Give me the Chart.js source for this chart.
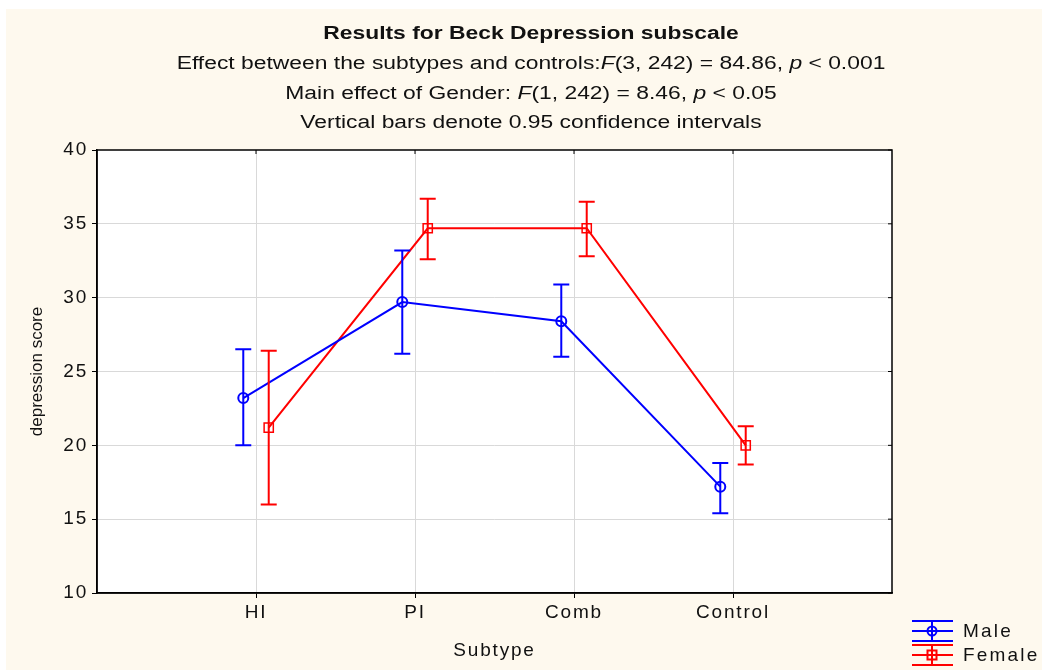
<!DOCTYPE html>
<html>
<head>
<meta charset="utf-8">
<script src="https://cdn.jsdelivr.net/npm/chart.js@4.4.1/dist/chart.umd.min.js"></script>
<style>
  body { margin: 0; background: #fff; }
  #wrap { position: relative; width: 1042px; height: 670px; overflow: hidden; font-family: "Liberation Sans", Arial, sans-serif; color: #111; }
  #bg { position: absolute; left: 6px; top: 9px; right: 0; bottom: 0; background: #fef9ee; }
  #myChart { position: absolute; left: 0; top: 0; }
  .hd { position: absolute; left: 0; width: 1062px; text-align: center; font-size: 18px; line-height: 22px;
        white-space: nowrap; transform: scaleX(1.27); transform-origin: 531px 50%; }
</style>
</head>
<body>
<div id="wrap">
  <div id="bg"></div>
  <canvas id="myChart" width="1042" height="670"></canvas>
  <div class="hd" style="top:22px;font-weight:bold">Results for Beck Depression subscale</div>
  <div class="hd" style="top:52px">Effect between the subtypes and controls:<i>F</i>(3, 242) = 84.86, <i>p</i> &lt; 0.001</div>
  <div class="hd" style="top:82px">Main effect of Gender: <i>F</i>(1, 242) = 8.46, <i>p</i> &lt; 0.05</div>
  <div class="hd" style="top:111px">Vertical bars denote 0.95 confidence intervals</div>
</div>
<script>
// subtypes on the x axis
const categories = ['HI', 'PI', 'Comb', 'Control'];

// means and 0.95 confidence limits
const maleMean = [23.2, 29.7, 28.4, 17.2];
const maleLow = [20.0, 26.2, 26.0, 15.4];
const maleHigh = [26.5, 33.2, 30.9, 18.8];

const femaleMean = [21.2, 34.7, 34.7, 20.0];
const femaleLow = [16.0, 32.6, 32.8, 18.7];
const femaleHigh = [26.4, 36.7, 36.5, 21.3];

const FONT = '"Liberation Sans", Arial, sans-serif';
const DODGE = 0.08; // male left of the category, female right
const BLUE = '#0000ff';
const RED = '#ff0000';
const SPACING = '1.8px'; // the original text is drawn wide

const toPoints = (vals, shift) => vals.map((y, i) => ({ x: i + 1 + shift, y }));

// vertical confidence bars with caps
const errorBars = {
  id: 'errorBars',
  afterDatasetsDraw(chart) {
    const { ctx, scales: { x, y } } = chart;
    chart.data.datasets.forEach((ds) => {
      ctx.save();
      ctx.strokeStyle = ds.borderColor;
      ctx.lineWidth = 2;
      ds.data.forEach((pt, i) => {
        const px = x.getPixelForValue(pt.x);
        const top = y.getPixelForValue(ds.high[i]);
        const bot = y.getPixelForValue(ds.low[i]);
        ctx.beginPath();
        ctx.moveTo(px, top); ctx.lineTo(px, bot);
        ctx.moveTo(px - 8, top); ctx.lineTo(px + 8, top);
        ctx.moveTo(px - 8, bot); ctx.lineTo(px + 8, bot);
        ctx.stroke();
      });
      ctx.restore();
    });
  }
};

// white plot area, black frame, y title and the legend in the corner
const frame = {
  id: 'frame',
  beforeUpdate(chart) { chart.ctx.letterSpacing = SPACING; },
  beforeDraw(chart) {
    const { ctx, chartArea: a } = chart;
    ctx.letterSpacing = SPACING;
    ctx.save();
    ctx.fillStyle = '#fff';
    ctx.fillRect(a.left, a.top, a.width, a.height);
    ctx.restore();
  },
  afterDraw(chart) {
    const { ctx, chartArea: a, scales: { x, y } } = chart;
    ctx.save();
    ctx.strokeStyle = '#000';
    ctx.lineWidth = 1.5;
    ctx.strokeRect(a.left, a.top, a.width, a.height);

    // small inward ticks on top and right
    ctx.lineWidth = 1;
    ctx.beginPath();
    x.ticks.forEach(t => {
      if (t.value > 0 && t.value < 5) {
        const px = x.getPixelForValue(t.value);
        ctx.moveTo(px, a.top); ctx.lineTo(px, a.top + 4);
      }
    });
    y.ticks.forEach(t => {
      const py = y.getPixelForValue(t.value);
      ctx.moveTo(a.right, py); ctx.lineTo(a.right - 4, py);
    });
    ctx.stroke();

    // y axis title
    ctx.letterSpacing = '0px';
    ctx.fillStyle = '#111';
    ctx.font = '17px ' + FONT;
    ctx.textAlign = 'center';
    ctx.textBaseline = 'middle';
    ctx.translate(37, (a.top + a.bottom) / 2);
    ctx.rotate(-Math.PI / 2);
    ctx.fillText('depression score', 0, 0);
    ctx.restore();

    // legend
    ctx.save();
    ctx.lineWidth = 2;
    chart.data.datasets.forEach((ds, i) => {
      const cy = 631 + i * 24;
      const cx = 932;
      ctx.strokeStyle = ds.borderColor;
      ctx.beginPath();
      [-10, 0, 10].forEach(d => { ctx.moveTo(912, cy + d); ctx.lineTo(953, cy + d); });
      ctx.moveTo(cx, cy - 10); ctx.lineTo(cx, cy + 10);
      ctx.stroke();
      ctx.beginPath();
      if (ds.pointStyle === 'circle') ctx.arc(cx, cy, 4.5, 0, Math.PI * 2);
      else ctx.rect(cx - 4.5, cy - 4.5, 9, 9);
      ctx.stroke();
      ctx.fillStyle = '#111';
      ctx.font = '19px ' + FONT;
      ctx.letterSpacing = '2.2px';
      ctx.textAlign = 'left';
      ctx.textBaseline = 'middle';
      ctx.fillText(ds.label, 963, cy + 1);
    });
    ctx.restore();
  }
};

const tickFont = { family: FONT, size: 19 };
const edge = (c, lo, hi) => c.tick && (c.tick.value === lo || c.tick.value === hi);

new Chart(document.getElementById('myChart'), {
  type: 'line',
  data: {
    datasets: [
      {
        label: 'Male',
        data: toPoints(maleMean, -DODGE),
        low: maleLow, high: maleHigh,
        borderColor: BLUE, backgroundColor: 'rgba(0,0,0,0)',
        borderWidth: 2, tension: 0,
        pointStyle: 'circle', pointRadius: 5, pointBorderWidth: 2
      },
      {
        label: 'Female',
        data: toPoints(femaleMean, DODGE),
        low: femaleLow, high: femaleHigh,
        borderColor: RED, backgroundColor: 'rgba(0,0,0,0)',
        borderWidth: 2, tension: 0,
        pointStyle: 'rect', pointRadius: 6.5, pointBorderWidth: 1.5
      }
    ]
  },
  options: {
    responsive: false,
    devicePixelRatio: 1,
    animation: false,
    layout: { padding: { top: 150, right: 150, left: 0, bottom: 0 } },
    plugins: { legend: { display: false }, tooltip: { enabled: false } },
    scales: {
      x: {
        type: 'linear', min: 0, max: 5,
        afterFit: (s) => { s.height = 77; },
        ticks: {
          stepSize: 1, autoSkip: false, maxRotation: 0, padding: 3,
          color: '#111', font: tickFont,
          callback: (v) => categories[v - 1] || ''
        },
        grid: {
          color: (c) => edge(c, 0, 5) ? 'rgba(0,0,0,0)' : '#d9d9d9',
          tickColor: (c) => edge(c, 0, 5) ? 'rgba(0,0,0,0)' : '#000',
          tickLength: 5
        },
        border: { color: '#000', width: 1.5 },
        title: { display: true, text: 'Subtype', color: '#111', font: tickFont, padding: { top: 0, bottom: 8 } }
      },
      y: {
        min: 10, max: 40,
        afterFit: (s) => { s.width = 97; },
        ticks: { stepSize: 5, padding: 4, color: '#111', font: tickFont },
        grid: {
          color: (c) => edge(c, 10, 40) ? 'rgba(0,0,0,0)' : '#d9d9d9',
          tickColor: '#000',
          tickLength: 5
        },
        border: { color: '#000', width: 1.5 }
      }
    }
  },
  plugins: [errorBars, frame]
});
</script>
</body>
</html>
